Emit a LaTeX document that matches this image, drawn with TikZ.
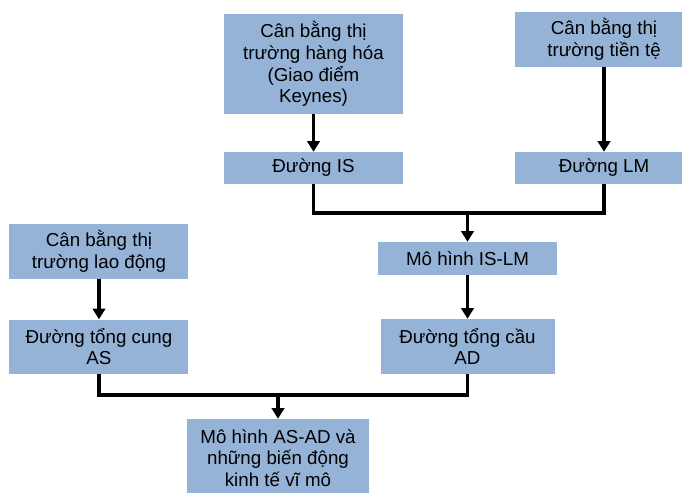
\documentclass[tikz,border=0pt]{standalone}
\usepackage{fontspec}
\setmainfont{Liberation Sans}
\usetikzlibrary{arrows.meta,positioning}
\definecolor{boxblue}{HTML}{95B3D7}

\begin{document}
\begin{tikzpicture}[x=0.03cm,y=-0.03cm,on grid,
    box/.style={fill=boxblue,minimum width=5.37cm,align=center,inner sep=0pt,
      font=\fontsize{16}{18.6}\selectfont},
    link/.style={line width=2.8pt},
    feed/.style={link,-{Triangle[length=9pt,width=10.5pt]}}]
      \clip (0,0) rectangle (682,492);
      \node[box,minimum height=3cm]    (goods)  at (313.5,64)            {Cân bằng thị\\trường hàng hóa\\(Giao điểm\\Keynes)};
      \node[box,minimum height=0.96cm] (IS)     [below=3.12cm of goods]  {Đường IS};
      \node[box,minimum height=0.96cm] (LM)     [right=8.715cm of IS]    {Đường LM};
      \node[box,minimum height=1.65cm] (money)  [above=3.87cm of LM]     {Cân bằng thị\\trường tiền tệ};
      \node[box,minimum height=0.99cm] (ISLM)   at (467.5,258.5)         {Mô hình IS-LM};
      \node[box,minimum height=1.65cm,minimum width=5.22cm] (AD) [below=2.64cm of ISLM] {Đường tổng cầu\\AD};
      \node[box,minimum height=1.62cm] (AS)     [left=11.055cm of AD]    {Đường tổng cung\\AS};
      \node[box,minimum height=1.65cm] (labour) [above=2.865cm of AS]    {Cân bằng thị\\trường lao động};
      \node[box,minimum height=2.34cm,minimum width=5.46cm] (ASAD) at (278,458) {Mô hình AS-AD và\\những biến động\\kinh tế vĩ mô};

      \coordinate (j1) at (467.5,213);
      \coordinate (j2) at (278,395);

      \draw[feed] (goods)  -- (IS);
      \draw[feed] (money)  -- (LM);
      \draw[feed] (labour) -- (AS);
      \draw[feed] (ISLM)   -- (AD);
      \draw[link] (IS.south) |- (j1) -| (LM.south);
      \draw[feed] (j1) -- (ISLM);
      \draw[link] (AS.south) |- (j2) -| (AD.south);
      \draw[feed] (j2) -- (ASAD);
    \end{tikzpicture}
\end{document}
